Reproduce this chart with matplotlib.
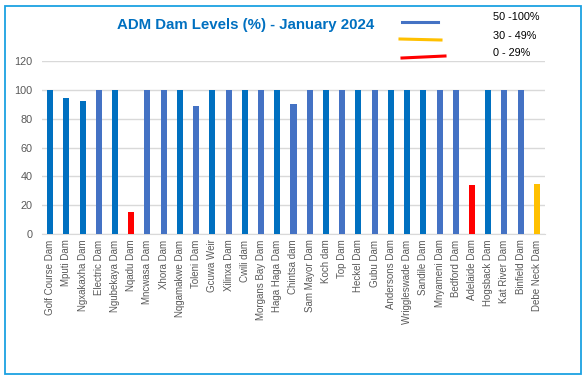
import matplotlib.pyplot as plt
from matplotlib.patches import Rectangle
from matplotlib.lines import Line2D

dams = ["Golf Course Dam", "Mputi Dam", "Ngxakaxha Dam", "Electric Dam",
        "Ngubekaya Dam", "Nqadu Dam", "Mncwasa Dam", "Xhora Dam",
        "Nqgamakwe Dam", "Toleni Dam", "Gcuwa Weir", "Xilinxa Dam",
        "Cwili dam", "Morgans Bay Dam", "Haga Haga Dam", "Chintsa dam",
        "Sam Mayor Dam", "Koch dam", "Top Dam", "Heckel Dam", "Gubu Dam",
        "Andersons Dam", "Wriggleswade Dam", "Sandile Dam", "Mnyameni Dam",
        "Bedford Dam", "Adelaide Dam", "Hogsback Dam", "Kat River Dam",
        "Binfield Dam", "Debe Neck Dam"]
levels = [100, 94, 92, 100, 100, 15, 100, 100, 100, 89, 100, 100, 100, 100,
          100, 90, 100, 100, 100, 100, 100, 100, 100, 100, 100, 100, 34, 100,
          100, 100, 35]
# D = dark blue, L = lighter blue, R = red, Y = yellow
shade = list("DDDLDRLLDLDLDLDLLDLDLDDDLLRDLLY")

palette = {"D": "#0070C0", "L": "#4472C4", "R": "#FF0000", "Y": "#FFC000"}
legend_labels = ["50 -100%", "30 - 49%", "0 - 29%"]
legend_colors = ["#4472C4", "#FFC000", "#FF0000"]

plt.rcParams["font.family"] = ["Liberation Sans", "DejaVu Sans"]

fig = plt.figure(figsize=(5.87, 3.8), dpi=100)
fig.patches.append(Rectangle((5 / 587, 6 / 380), 576 / 587, 368 / 380,
                             transform=fig.transFigure, fill=False,
                             edgecolor="#1BA1E2", linewidth=1.3))

ax = fig.add_axes((42 / 587, 1 - 234 / 380, 503 / 587, 173 / 380))
x = range(len(dams))
ax.bar(x, levels, width=0.37, color=[palette[s] for s in shade], zorder=3)
ax.set_xlim(-0.5, len(dams) - 0.5)
ax.set_ylim(0, 120)
ax.set_yticks(range(0, 121, 20))
ax.set_xticks(list(x))
ax.set_xticklabels(dams, rotation=90, fontsize=7, color="#595959")
ax.tick_params(axis="y", labelsize=7.8, labelcolor="#595959", length=0, pad=7)
ax.tick_params(axis="x", length=0, pad=4)
ax.grid(axis="y", color="#D9D9D9", linewidth=1, zorder=0)
for side in ["top", "right", "left"]:
    ax.spines[side].set_visible(False)
ax.spines["bottom"].set_color("#D9D9D9")

fig.text(246 / 587, 1 - 25 / 380, "ADM Dam Levels (%) - January 2024",
         ha="center", va="center", fontsize=10.8, fontweight="bold",
         color="#0070C0")

# hand-drawn style legend
line_x = [(402, 438), (400, 441), (402, 445)]
line_y = [(22, 22), (39, 40), (58, 56)]
text_y = [17, 36, 53]
for lab, col, lx, ly, ty in zip(legend_labels, legend_colors, line_x,
                                line_y, text_y):
    fig.add_artist(Line2D([lx[0] / 587, lx[1] / 587],
                          [1 - ly[0] / 380, 1 - ly[1] / 380],
                          color=col, linewidth=2.2))
    fig.text(493 / 587, 1 - ty / 380, lab, ha="left", va="center",
             fontsize=7.8, color="#000000")

fig.savefig("out.png", dpi=100)
